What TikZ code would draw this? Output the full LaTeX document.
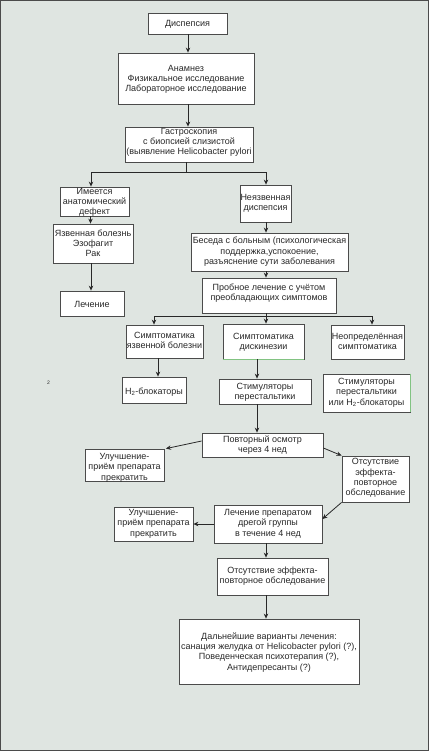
\documentclass[tikz,border=0pt]{standalone}
\usepackage{fontspec}
\setmainfont{Liberation Sans}
\usetikzlibrary{arrows.meta}
\definecolor{bg}{RGB}{223,229,225}
\definecolor{ink}{RGB}{40,40,40}
\definecolor{edge}{RGB}{75,75,75}
\definecolor{accent}{RGB}{130,195,130}
\newcommand\tx[2][0pt]{\makebox[0pt]{\smash{\raisebox{\dimexpr#1-3pt\relax}{\begin{tabular}{@{}c@{}}#2\end{tabular}}}}}
\tikzset{
  box/.style={draw=edge, fill=white, line width=0.8pt, inner sep=0pt, text=ink,
    font=\fontsize{9}{10.3}\selectfont},
  sz/.style 2 args={minimum width=#1pt, minimum height=#2pt},
  arr/.style={draw=ink, line width=0.8pt, -{Stealth[length=5pt,width=4.5pt]}},
  ln/.style={draw=ink, line width=0.8pt},
  accentline/.style={draw=accent, line width=0.8pt}
}
\begin{document}
\begin{tikzpicture}[x=1pt,y=-1pt]
\useasboundingbox (0,0) rectangle (429,751);
\fill[bg] (0,0) rectangle (429,751);
\draw[edge, line width=1pt] (0.5,0.5) rectangle (428.5,750.5);

\node[box, sz={79}{21}] (dysp) at (187.5,23.5) {\tx{Диспепсия}};
\node[box, sz={136}{51}] (anam) at (186,78.5) {\tx{Анамнез\\Физикальное исследование\\Лабораторное исследование}};
\node[box, sz={128}{35}] (gastro) at (189,144.5) {\tx[3pt]{Гастроскопия\\с биопсией слизистой\\(выявление Helicobacter pylori}};
\node[box, sz={69}{29}] (defect) at (94.5,201.5) {\tx{Имеется\\анатомический\\дефект}};
\node[box, sz={80}{39}] (ulcer) at (93,243.5) {\tx{Язвенная болезнь\\Эзофагит\\Рак}};
\node[box, sz={51}{37}] (nonulcer) at (265.5,203.5) {\tx[0.5pt]{Неязвенная\\диспепсия}};
\node[box, sz={157}{38}] (beseda) at (269.5,252) {\tx[0.7pt]{Беседа с больным (психологическая\\поддержка,успокоение,\\разъяснение сути заболевания}};
\node[box, sz={64}{25}] (lech) at (92,303.5) {\tx[-1.5pt]{Лечение}};
\node[box, sz={134}{35}] (probnoe) at (269,295.5) {\tx[2.5pt]{Пробное лечение с учётом\\преобладающих симптомов}};
\node[box, sz={77}{33}] (sym1) at (164.5,341.5) {\tx[0.5pt]{Симптоматика\\язвенной болезни}};
\node[box, sz={81}{35}] (sym2) at (263.5,341.5) {\tx{Симптоматика\\дискинезии}};
\node[box, sz={73}{34}] (sym3) at (367.5,342) {\tx{Неопределённая\\симптоматика}};
\node[box, sz={64}{26}] (h2) at (154,390) {\tx[-2pt]{H\textsubscript{2}-блокаторы}};
\node[box, sz={92}{25}] (stim) at (265,391.5) {\tx{Стимуляторы\\перестальтики}};
\node[box, sz={87}{38}] (stimh2) at (366.5,393) {\tx[1pt]{Стимуляторы\\перестальтики\\или H\textsubscript{2}-блокаторы}};
\node[box, sz={121}{24}] (povt) at (262.5,445) {\tx{Повторный осмотр\\через 4 нед}};
\node[box, sz={79}{32}] (ulu1) at (124.5,465) {\tx[-2pt]{Улучшение-\\приём препарата\\прекратить}};
\node[box, sz={67}{46}] (ots1) at (375.5,479) {\tx[1.5pt]{Отсутствие\\эффекта-\\повторное\\обследование}};
\node[box, sz={108}{38}] (lechprep) at (268,524) {\tx[1pt]{Лечение препаратом\\дрегой группы\\в течение 4 нед}};
\node[box, sz={79}{34}] (ulu2) at (153.5,524) {\tx[1pt]{Улучшение-\\приём препарата\\прекратить}};
\node[box, sz={111}{37}] (ots2) at (272.5,576.5) {\tx[0.5pt]{Отсутствие эффекта-\\повторное обследование}};
\node[box, sz={180}{65}] (dal) at (269,651.5) {\tx[-0.5pt]{Дальнейшие варианты лечения:\\санация желудка от Helicobacter pylori (?),\\Поведенческая психотерапия (?),\\Антидепресанты (?)}};

\node[text=ink, inner sep=0pt, font=\fontsize{5}{5}\selectfont] (stray) at (48.5,383) {2};

\draw[accentline] (sym2.south west) -- (sym2.south east);
\draw[accentline] (stimh2.north east) -- (stimh2.south east);

\draw[arr] ([xshift=0.5pt]dysp.south) -- ([xshift=0.5pt]dysp.south |- anam.north);
\draw[arr] ([xshift=2pt]anam.south) -- ([xshift=2pt]anam.south |- gastro.north);
\draw[ln] ([xshift=-3pt]gastro.south) -- ++(0,10) coordinate (gj);
\draw[arr] (gj) -| ([xshift=-3.5pt]defect.north);
\draw[arr] (gj) -| ([xshift=0.5pt]nonulcer.north);
\draw[arr] ([xshift=-4pt]defect.south) -- ([xshift=-4pt]defect.south |- ulcer.north);
\draw[arr] ([xshift=-2pt]ulcer.south) -- ([xshift=-2pt]ulcer.south |- lech.north);
\draw[arr] ([xshift=0.5pt]nonulcer.south) -- ([xshift=0.5pt]nonulcer.south |- beseda.north);
\draw[arr] ([xshift=-3.5pt]beseda.south) -- ([xshift=-3.5pt]beseda.south |- probnoe.north);
\draw[ln] ([xshift=-3pt]probnoe.south) -- ++(0,3) coordinate (pj);
\draw[arr] (pj) -| ([xshift=-10.5pt]sym1.north);
\draw[arr] (pj) -- (pj |- sym2.north);
\draw[arr] (pj) -| ([xshift=4.5pt]sym3.north);
\draw[arr] ([xshift=-6.5pt]sym1.south) -- ([xshift=-6.5pt]sym1.south |- h2.north);
\draw[arr] ([xshift=-6.5pt]sym2.south) -- ([xshift=-6.5pt]sym2.south |- stim.north);
\draw[arr] ([xshift=-8pt]stim.south) -- ([xshift=-8pt]stim.south |- povt.north);
\draw[arr] ([yshift=4pt]povt.west) -- ([xshift=1.5pt]ulu1.north east);
\draw[arr] ([yshift=-3pt]povt.east) -- (ots1.north west);
\draw[arr] (ots1.south west) -- ([yshift=5pt]lechprep.east);
\draw[arr] (lechprep.west) -- (ulu2.east);
\draw[arr] ([xshift=-2pt]lechprep.south) -- ([xshift=-2pt]lechprep.south |- ots2.north);
\draw[arr] ([xshift=-6.5pt]ots2.south) -- ([xshift=-6.5pt]ots2.south |- dal.north);
\end{tikzpicture}
\end{document}
